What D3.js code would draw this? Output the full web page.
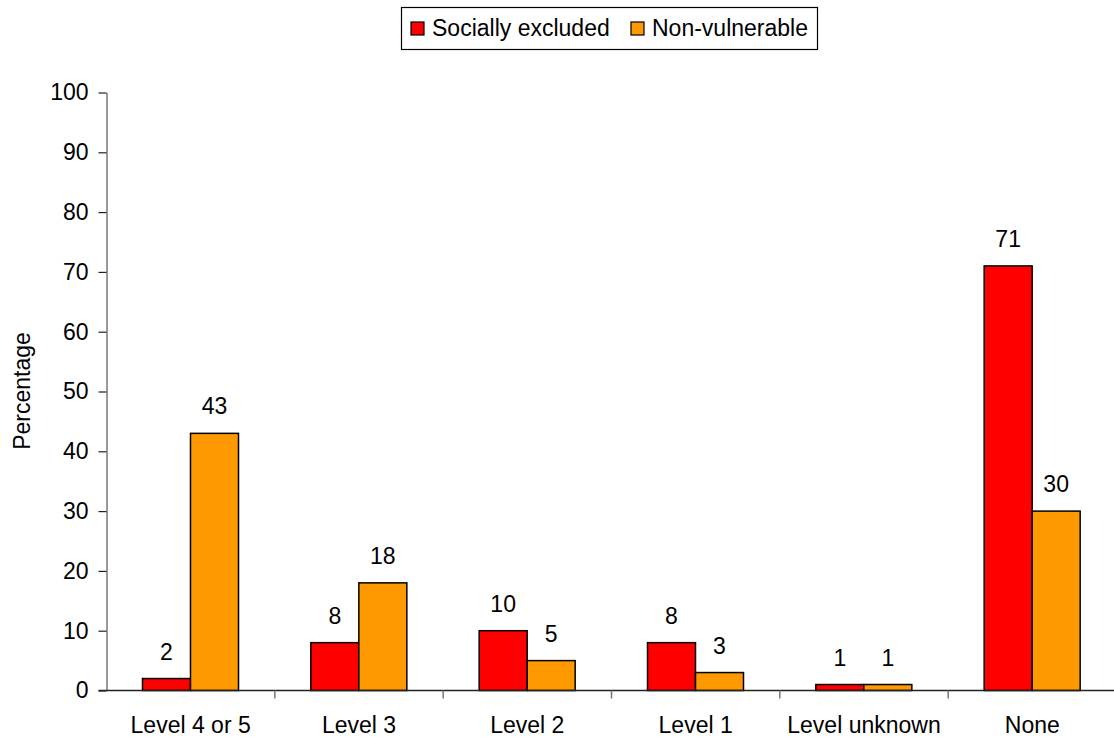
<!DOCTYPE html>
<html><head><meta charset="utf-8">
<script src="https://cdn.jsdelivr.net/npm/d3@7"></script>
<style>body{margin:0;background:#fff;} text{font-family:"Liberation Sans",Arial,sans-serif;}</style>
</head><body>
<svg id="c" width="1114" height="738"></svg>
<script>
const categories = ["Level 4 or 5","Level 3","Level 2","Level 1","Level unknown","None"];
const seriesNames = ["Socially excluded","Non-vulnerable"];
const sociallyExcluded = [2,8,10,8,1,71];
const nonVulnerable = [43,18,5,3,1,30];
const yTicks = [0,10,20,30,40,50,60,70,80,90,100];
const colors = ["#FF0000","#FF9900"];

(function(){
const svg = d3.select("#c");
const pLeft = 106.5, pRight = 1116.5, pTop = 92.5, pBottom = 690.5;
const fs = 23;
const x = d3.scaleBand().domain(categories).range([pLeft,pRight]).paddingInner(0).paddingOuter(0);
const x1 = d3.scaleBand().domain(seriesNames).range([36, 132]);
const y = d3.scaleLinear().domain([0,100]).range([pBottom, pTop]);

const data = categories.map((c,i)=>({cat:c, vals:[sociallyExcluded[i], nonVulnerable[i]]}));

const g = svg.append("g");
data.forEach(d=>{
  d.vals.forEach((v,j)=>{
    g.append("rect")
      .attr("x", x(d.cat)+x1(seriesNames[j]))
      .attr("y", y(v))
      .attr("width", x1.bandwidth())
      .attr("height", y(0)-y(v))
      .attr("fill", colors[j])
      .attr("stroke","#000").attr("stroke-width",1.5);
    g.append("text")
      .attr("x", x(d.cat)+x1(seriesNames[j])+x1.bandwidth()/2)
      .attr("y", y(v)-19)
      .attr("text-anchor","middle")
      .attr("font-size",fs).attr("fill","#000")
      .text(v);
  });
});

const ya = svg.append("g").attr("transform",`translate(${pLeft},0)`)
  .call(d3.axisLeft(y).tickValues(yTicks).tickSize(8).tickPadding(10).tickSizeOuter(0));
ya.select(".domain").attr("stroke","#777").attr("stroke-width",1.5);
ya.selectAll(".tick line").attr("stroke","#222").attr("stroke-width",1.2);
ya.selectAll(".tick text").attr("font-size",fs).attr("font-family","Liberation Sans, Arial, sans-serif").attr("fill","#000");

svg.append("line").attr("x1",pLeft-8).attr("x2",pRight).attr("y1",pBottom).attr("y2",pBottom)
  .attr("stroke","#222").attr("stroke-width",1.5);
categories.forEach((c,i)=>{
  if(i===0) return;
  svg.append("line").attr("x1",x(c)).attr("x2",x(c)).attr("y1",pBottom).attr("y2",pBottom+8)
    .attr("stroke","#777").attr("stroke-width",1.5);
});
categories.forEach(c=>{
  svg.append("text").attr("x",x(c)+x.bandwidth()/2).attr("y",733)
    .attr("text-anchor","middle").attr("font-size",fs).attr("fill","#000").text(c);
});

svg.append("text").attr("transform","translate(30,391) rotate(-90)")
  .attr("text-anchor","middle").attr("font-size",fs).attr("fill","#000").text("Percentage");

const lg = svg.append("g");
lg.append("rect").attr("x",401.5).attr("y",7.5).attr("width",416).attr("height",42)
  .attr("fill","#fff").attr("stroke","#000").attr("stroke-width",1.2);
const legX = [411, 631];
seriesNames.forEach((s,j)=>{
  lg.append("rect").attr("x",legX[j]).attr("y",22).attr("width",13).attr("height",13)
    .attr("fill",colors[j]).attr("stroke","#000").attr("stroke-width",1.2);
  lg.append("text").attr("x",legX[j]+21).attr("y",36).attr("font-size",fs).attr("fill","#000").text(s);
});
})();
</script>
</body></html>
